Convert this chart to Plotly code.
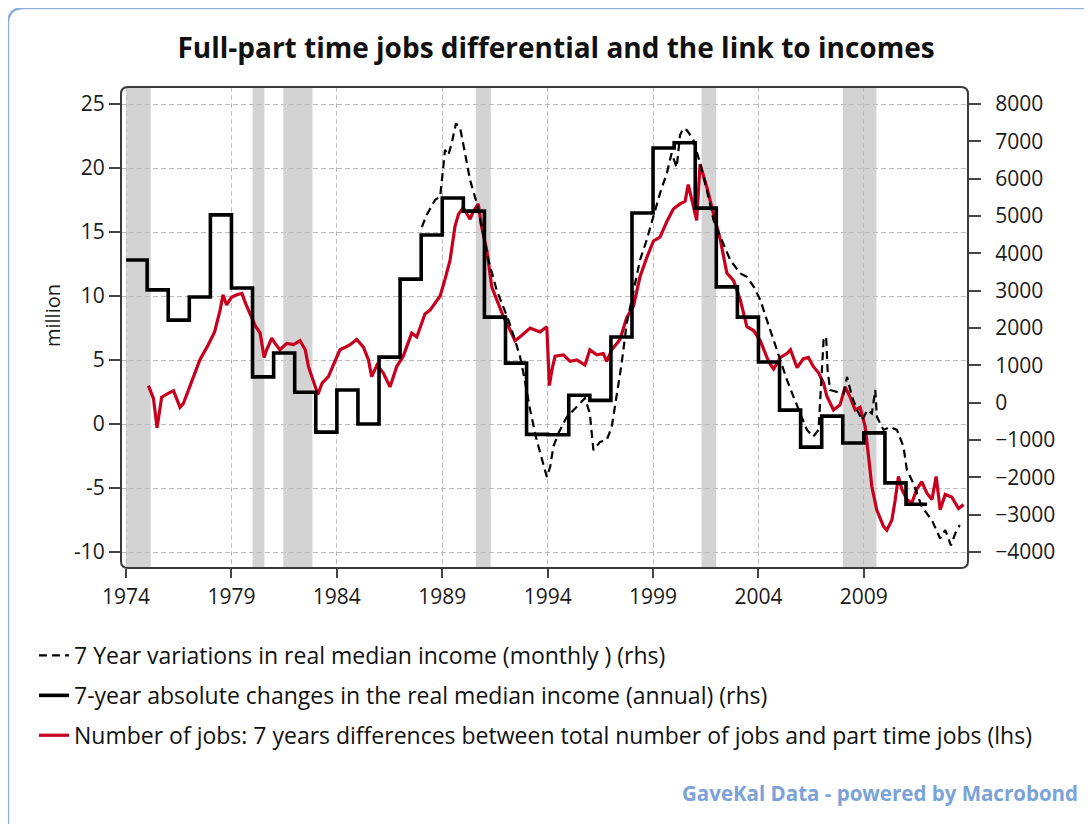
import plotly.graph_objects as go

# ---------------- data ----------------
title_text = "Full-part time jobs differential and the link to incomes"
x_ticks = [1974, 1979, 1984, 1989, 1994, 1999, 2004, 2009]
left_ticks = [25, 20, 15, 10, 5, 0, -5, -10]
right_ticks = [8000, 7000, 6000, 5000, 4000, 3000, 2000, 1000, 0,
               -1000, -2000, -3000, -4000]

# recessions (decimal years)
rec_start = [1974.0, 1980.0, 1981.46, 1990.59, 2001.3, 2008.0]
rec_end = [1975.17, 1980.56, 1982.84, 1991.3, 2002.0, 2009.6]

# 7-year absolute changes in real median income (annual), rhs
annual_years = list(range(1974, 2012))
annual_values = [3820, 3020, 2210, 2830, 5030, 3070, 690, 1330, 280, -790,
                 340, -570, 1220, 3310, 4490, 5480, 5130, 2290, 1060, -850,
                 -860, 200, 60, 1760, 5080, 6820, 6960, 5210, 3100, 2290,
                 1090, -200, -1190, -360, -1080, -810, -2150, -2720]

# 7-year variations in real median income (monthly), rhs
monthly_t = [1988.03, 1988.26, 1988.66, 1988.90, 1989.05, 1989.13, 1989.29,
             1989.45, 1989.65, 1989.85, 1990.08, 1990.32, 1990.64, 1990.87,
             1991.19, 1991.58, 1991.90, 1992.14, 1992.45, 1992.69, 1992.85,
             1993.17, 1993.48, 1993.80, 1993.96, 1994.12, 1994.27, 1994.51,
             1994.91, 1995.38, 1995.77, 1996.00, 1996.17, 1996.49, 1996.80,
             1997.04, 1997.27, 1997.51, 1997.75, 1998.07, 1998.38, 1998.70,
             1999.02, 1999.33, 1999.65, 1999.88, 2000.12, 2000.28, 2000.44,
             2000.60, 2000.91, 2001.23, 2001.55, 2001.87, 2002.19, 2002.66,
             2003.14, 2003.45, 2003.77, 2004.09, 2004.40, 2004.72, 2005.04,
             2005.35, 2005.66, 2005.98, 2006.30, 2006.60, 2006.85, 2007.09,
             2007.21, 2007.28, 2007.40, 2007.72, 2008.04, 2008.20, 2008.44,
             2008.68, 2008.92, 2009.16, 2009.38, 2009.54, 2009.62, 2009.93,
             2010.25, 2010.57, 2010.88, 2011.04, 2011.35, 2011.75, 2012.23,
             2012.62, 2012.86, 2013.13, 2013.34, 2013.55]
monthly_v = [4700, 5030, 5430, 5520, 6320, 6770, 6630,
             6950, 7480, 7350, 6680, 5960, 5340, 4710,
             3820, 3020, 2570, 2210, 1680, 1230, 790,
             -200, -1000, -1630, -1990, -1720, -1180, -820,
             -380, -110, 120, -290, -1270, -1050, -1000,
             -650, 160, 1050, 2120, 3020, 3820, 4360,
             4980, 5610, 6140, 6680, 6300, 7170, 7350,
             7300, 7040, 6410, 5700, 4890, 4450, 3820,
             3460, 3370, 3110, 2750, 2210, 1680, 1140,
             610, 160, -290, -730, -910, -730, 1680,
             1770, 870, 340, 290, 250, 690, 160,
             -200, -470, -200, -290, 340, -380, -730,
             -650, -730, -1180, -1800, -2160, -2790, -3150,
             -3640, -3410, -3820, -3500, -3280]

# Number of jobs: 7-year differences, total minus part-time (lhs, million)
jobs_t = [1975.06, 1975.30, 1975.47, 1975.69, 1976.00, 1976.25, 1976.56,
          1976.72, 1977.04, 1977.50, 1977.90, 1978.20, 1978.46, 1978.60,
          1978.77, 1979.00, 1979.25, 1979.50, 1979.65, 1979.88, 1980.12,
          1980.36, 1980.55, 1980.67, 1980.91, 1981.07, 1981.30, 1981.62,
          1981.94, 1982.25, 1982.50, 1982.65, 1982.90, 1983.10, 1983.30,
          1983.60, 1983.83, 1984.15, 1984.40, 1984.63, 1984.94, 1985.26,
          1985.50, 1985.65, 1985.90, 1986.20, 1986.52, 1986.84, 1987.15,
          1987.55, 1987.79, 1988.18, 1988.42, 1988.66, 1988.90, 1989.13,
          1989.37, 1989.60, 1989.77, 1990.00, 1990.32, 1990.47, 1990.71,
          1990.87, 1991.11, 1991.35, 1991.58, 1991.90, 1992.20, 1992.45,
          1992.75, 1993.17, 1993.45, 1993.64, 1993.96, 1994.08, 1994.20,
          1994.35, 1994.75, 1995.06, 1995.38, 1995.77, 1996.00, 1996.33,
          1996.64, 1996.80, 1997.04, 1997.27, 1997.43, 1997.75, 1998.07,
          1998.38, 1998.70, 1999.02, 1999.33, 1999.65, 1999.96, 2000.28,
          2000.52, 2000.67, 2000.91, 2001.07, 2001.23, 2001.55, 2001.87,
          2002.19, 2002.50, 2002.82, 2003.14, 2003.45, 2003.77, 2004.09,
          2004.40, 2004.55, 2004.72, 2005.04, 2005.35, 2005.52, 2005.83,
          2006.13, 2006.37, 2006.60, 2006.85, 2007.09, 2007.24, 2007.56,
          2007.87, 2008.11, 2008.35, 2008.59, 2008.82, 2009.06, 2009.22,
          2009.38, 2009.61, 2009.93, 2010.09, 2010.33, 2010.48, 2010.64,
          2010.80, 2011.04, 2011.27, 2011.51, 2011.75, 2011.99, 2012.23,
          2012.43, 2012.62, 2012.86, 2013.17, 2013.49, 2013.73]
jobs_v = [3.0, 2.0, -0.3, 2.1, 2.4, 2.6, 1.3,
          1.6, 3.0, 5.0, 6.2, 7.2, 8.9, 10.1,
          9.3, 9.9, 10.1, 10.2, 9.5, 8.6, 7.7,
          7.1, 5.2, 5.8, 6.7, 6.3, 5.8, 6.3,
          6.2, 6.5, 5.8, 4.5, 3.2, 2.3, 3.2,
          3.7, 4.6, 5.8, 6.0, 6.2, 6.6, 6.0,
          5.0, 3.7, 4.6, 4.0, 2.9, 4.5, 5.3,
          7.1, 6.8, 8.6, 8.9, 9.4, 10.0, 11.3,
          12.8, 15.4, 16.4, 16.9, 16.0, 16.6, 17.2,
          15.4, 13.6, 10.7, 9.7, 8.4, 7.4, 6.5,
          6.9, 7.5, 7.3, 7.2, 7.6, 3.0, 4.2,
          5.3, 5.4, 4.9, 5.0, 4.6, 5.8, 5.4,
          5.5, 4.9, 5.8, 6.3, 6.6, 8.3, 9.2,
          11.5, 13.0, 14.3, 14.6, 15.8, 16.8, 17.2,
          17.4, 18.7, 16.9, 15.9, 20.3, 18.5, 16.4,
          14.4, 11.8, 11.2, 9.7, 7.6, 7.3, 6.5,
          5.2, 4.7, 4.3, 5.2, 5.5, 5.8, 4.4,
          5.1, 5.2, 4.5, 4.0, 3.2, 2.2, 1.1,
          1.5, 2.9, 2.1, 1.1, 1.3, -0.2, -2.5,
          -4.9, -6.7, -8.0, -8.3, -7.5, -6.0, -4.1,
          -5.1, -5.9, -6.2, -5.1, -4.5, -5.4, -5.9,
          -4.1, -6.7, -5.5, -5.7, -6.6, -6.3]

legend_names = [
    "7 Year variations in real median income (monthly ) (rhs)",
    "7-year absolute changes in the real median income (annual) (rhs)",
    "Number of jobs: 7 years differences between total number of jobs and part time jobs (lhs)",
]
source_text = "GaveKal Data - powered by Macrobond"
y_title = "million"

# ---------------- layout geometry ----------------
OFF = 8  # page body margin added by the browser
W, H = 1092 - OFF, 824 - OFF
PL, PR, PT, PB = 121 - OFF, 968 - OFF, 87 - OFF, 568 - OFF  # plot area (px)
FONT = "Open Sans, Liberation Sans, Arial, sans-serif"
RED = "#C8001E"


def px_x(p):
    return (p - OFF - PL) / (PR - PL)


def px_y(p):
    return (PB - (p - OFF)) / (PB - PT)


def rounded_rect(x0, y0, x1, y1, r):
    return (f"M {px_x(x0 + r)},{px_y(y0)} L {px_x(x1 - r)},{px_y(y0)} "
            f"Q {px_x(x1)},{px_y(y0)} {px_x(x1)},{px_y(y0 + r)} "
            f"L {px_x(x1)},{px_y(y1 - r)} Q {px_x(x1)},{px_y(y1)} {px_x(x1 - r)},{px_y(y1)} "
            f"L {px_x(x0 + r)},{px_y(y1)} Q {px_x(x0)},{px_y(y1)} {px_x(x0)},{px_y(y1 - r)} "
            f"L {px_x(x0)},{px_y(y0 + r)} Q {px_x(x0)},{px_y(y0)} {px_x(x0 + r)},{px_y(y0)} Z")


fig = go.Figure()

# step series (annual): extend last value to the end of its year
step_x = annual_years + [annual_years[-1] + 1]
step_y = annual_values + [annual_values[-1]]
fig.add_trace(go.Scatter(
    x=step_x, y=step_y, mode="lines", yaxis="y2", name=legend_names[1],
    line=dict(color="black", width=3.6, shape="hv"),
    legendrank=2, legendgroup="b", hoverinfo="skip"))

fig.add_trace(go.Scatter(
    x=monthly_t, y=monthly_v, mode="lines", yaxis="y2", name=legend_names[0],
    line=dict(color="black", width=2.2, dash="8px,5px"),
    legendrank=1, legendgroup="a", hoverinfo="skip"))

fig.add_trace(go.Scatter(
    x=jobs_t, y=jobs_v, mode="lines", yaxis="y", name=legend_names[2],
    line=dict(color=RED, width=3.2),
    legendrank=3, legendgroup="c", hoverinfo="skip"))

shapes = []
for s, e in zip(rec_start, rec_end):
    shapes.append(dict(type="rect", xref="x", yref="paper", x0=s, x1=e, y0=0, y1=1,
                       fillcolor="#D3D3D3", line=dict(width=0), layer="below"))
# plot frame with rounded corners
shapes.append(dict(type="path", xref="paper", yref="paper",
                   path=rounded_rect(121, 87, 968, 568, 7),
                   line=dict(color="#3A3A3A", width=2), layer="above"))
# outer light-blue border (only top-left visible)
shapes.append(dict(type="path", xref="paper", yref="paper",
                   path=(f"M {px_x(8)},{px_y(840)} L {px_x(8)},{px_y(24)} "
                         f"Q {px_x(8)},{px_y(8)} {px_x(24)},{px_y(8)} L {px_x(1110)},{px_y(8)}"),
                   line=dict(color="#8DB0DE", width=2.5)))

grid = dict(showgrid=True, gridcolor="#BDBDBD", gridwidth=1, griddash="5px,3px")

fig.update_layout(
    width=W, height=H,
    margin=dict(l=PL, r=W - PR, t=PT, b=H - PB, autoexpand=False),
    paper_bgcolor="white", plot_bgcolor="white",
    font=dict(family=FONT, color="#1A1A1A", size=21),
    title=dict(text="<b>" + title_text + "</b>", x=(556 - OFF) / W, xref="container",
               xanchor="center", y=1 - (48 - OFF) / H, yref="container", yanchor="middle",
               font=dict(family=FONT, size=28, color="#111111")),
    xaxis=dict(range=[1973.76, 2013.94], tickmode="array", tickvals=x_ticks,
               ticktext=[str(v) for v in x_ticks], ticks="outside", ticklen=9,
               tickwidth=1.5, tickcolor="#444", showline=False, zeroline=False,
               tickfont=dict(size=21), ticklabelstandoff=1, **grid),
    yaxis=dict(range=[-11.25, 26.33], tickmode="array", tickvals=left_ticks,
               ticktext=[str(v) for v in left_ticks], ticks="outside", ticklen=11,
               tickwidth=1.5, tickcolor="#444", showline=False, zeroline=False,
               tickfont=dict(size=21), **grid),
    yaxis2=dict(range=[-4429, 8455], overlaying="y", side="right", tickmode="array",
                tickvals=right_ticks,
                ticktext=[str(v).replace("-", "\u2212") for v in right_ticks],
                ticks="outside", ticklen=12, tickwidth=1.5, tickcolor="#444",
                showgrid=False, showline=False, zeroline=False,
                tickfont=dict(size=21), ticklabelstandoff=10),
    legend=dict(x=px_x(34), y=px_y(634), xanchor="left", yanchor="top",
                orientation="v", traceorder="grouped", tracegroupgap=7,
                bgcolor="rgba(0,0,0,0)", font=dict(size=23, color="#111111"),
                itemwidth=30),
    shapes=shapes,
    annotations=[
        dict(text="<b>" + source_text + "</b>", xref="paper", yref="paper",
             x=px_x(1080), y=px_y(793), xanchor="right", yanchor="middle",
             showarrow=False, font=dict(size=20.5, color="#7BA3D8", family=FONT)),
        dict(text=y_title, xref="paper", yref="paper", x=px_x(52), y=px_y(316),
             xanchor="center", yanchor="middle", textangle=-90, showarrow=False,
             font=dict(size=20, color="#1A1A1A", family=FONT)),
    ],
    showlegend=True,
)

fig.write_html("out.html")
